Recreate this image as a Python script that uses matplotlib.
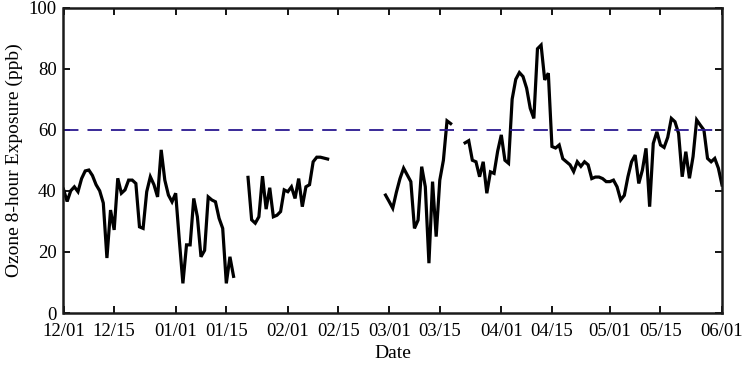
import numpy as np
import pandas as pd
import matplotlib
matplotlib.use("Agg")
import matplotlib.pyplot as plt

# ---- data ----
seg_starts = ["2016-12-01", "2017-01-21", "2017-02-28", "2017-03-22"]
seg1 = [40.5, 36.5, 40, 41.3, 39.7, 44, 46.5, 46.8, 45, 42, 40, 36, 18, 33.7, 27.2,
        44.1, 39.2, 40.3, 43.5, 43.5, 42.4, 28.2, 27.7, 39.7, 44.6, 42, 38, 53.4,
        43.5, 38.6, 36.4, 39.2, 24, 9.7, 22.3, 22.3, 37.5, 31.5, 18.4, 20.5, 38, 37,
        36.4, 31, 27.7, 9.7, 18.4, 12]
seg2 = [44.4, 30.5, 29.4, 31.5, 44.8, 34, 41, 31.5, 32, 33.2, 40.3, 39.7, 41.3, 37.5,
        44, 34.8, 41.3, 42, 49.5, 51, 51, 50.7, 50.4]
seg3 = [38.6, 36.5, 34.3, 39.5, 44, 47.4, 45.2, 43, 27.7, 30.4, 47.9, 41.3, 16.3, 43,
        25, 43.5, 50, 62.9, 62]
seg4 = [55.7, 56.4, 50, 49.5, 44.6, 49.5, 39.2, 46.2, 45.7, 53, 58.3, 50, 49, 70, 76.5,
        78.7, 77.4, 73.6, 67, 63.7, 86.5, 87.7, 76.3, 78.5, 54.5, 54, 55, 50.5, 49.5,
        48.5, 46.3, 49.5, 48, 49.5, 48.5, 44, 44.5, 44.5, 44, 43, 43, 43.5, 41.3, 37,
        38.5, 44.6, 49.5, 51.7, 42.4, 46.8, 53.9, 34.8, 55.5, 59.3, 55, 54.2, 57.5,
        63.7, 62.6, 58.8, 44.6, 52.8, 44.1, 51.2, 63.2, 61.5, 59.9, 50.6, 49.5, 50.6,
        47.4, 41.9]
segments = [seg1, seg2, seg3, seg4]
standard = 60
tick_dates = ["2016-12-01", "2016-12-15", "2017-01-01", "2017-01-15", "2017-02-01",
              "2017-02-15", "2017-03-01", "2017-03-15", "2017-04-01", "2017-04-15",
              "2017-05-01", "2017-05-15", "2017-06-01"]
tick_labels = ["12/01", "12/15", "01/01", "01/15", "02/01", "02/15", "03/01", "03/15",
               "04/01", "04/15", "05/01", "05/15", "06/01"]
y_ticks = [0, 20, 40, 60, 80, 100]

plt.rcParams["font.family"] = ["Liberation Serif", "DejaVu Serif"]
plt.rcParams["font.size"] = 13.5

fig = plt.figure(figsize=(7.44, 3.66), dpi=100)
ax = fig.add_axes([63.5 / 744, 53 / 366, 658.5 / 744, 305.5 / 366])

for start, vals in zip(seg_starts, segments):
    d = pd.date_range(start, periods=len(vals), freq="D")
    ax.plot(d, vals, color="black", lw=2.3, solid_joinstyle="miter")

xmin = pd.Timestamp(tick_dates[0])
xmax = pd.Timestamp(tick_dates[-1])
ax.plot([xmin, xmax], [standard, standard], color="#2a1890", lw=1.3,
        dashes=(8, 5))

ax.set_xlim(xmin, xmax)
ax.set_ylim(y_ticks[0], y_ticks[-1])
ax.set_xticks([pd.Timestamp(t) for t in tick_dates])
ax.set_xticklabels(tick_labels)
ax.set_yticks(y_ticks)
ax.tick_params(direction="in", length=5, width=1.3, top=True, right=True,
               labelsize=13.5)
ax.tick_params(axis="x", pad=7)
ax.tick_params(axis="y", pad=5)
for s in ax.spines.values():
    s.set_linewidth(1.8)
    s.set_color("#1a1a1a")
ax.set_xlabel("Date", fontsize=14, labelpad=4)
ax.set_ylabel("Ozone 8-hour Exposure (ppb)", fontsize=14, labelpad=4)

fig.savefig("out.png", dpi=100)
